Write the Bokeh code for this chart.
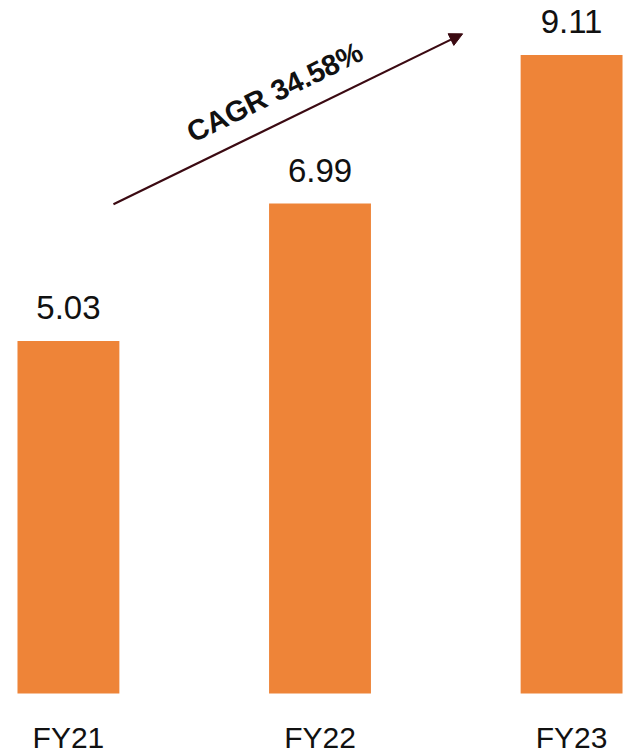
from bokeh.plotting import figure
from bokeh.models import Range1d, ColumnDataSource, Arrow, NormalHead, Label
from bokeh.core.properties import value
from bokeh.embed import file_html
from bokeh.resources import INLINE

categories = ["FY21", "FY22", "FY23"]
values = [5.03, 6.99, 9.11]
value_labels = ["5.03", "6.99", "9.11"]
cagr_text = "CAGR 34.58%"

xs = list(range(len(categories)))
src = ColumnDataSource(dict(x=xs, top=values, lab=value_labels, cat=categories,
                            cy=[-0.63] * len(categories)))

p = figure(width=638, height=755, output_backend="svg", toolbar_location=None,
           x_range=Range1d(-0.270, 2.266), y_range=Range1d(-0.884, 9.886),
           min_border=0, min_border_left=0, min_border_right=0,
           min_border_top=0, min_border_bottom=0)
p.axis.visible = False
p.grid.visible = False
p.outline_line_color = None
p.background_fill_color = "white"

p.vbar(x="x", top="top", bottom=0, width=0.405, source=src,
       fill_color="#EE8438", line_color=None)

p.text(x="x", y="top", text="lab", source=src, text_align="center",
       text_baseline="middle", y_offset=-33,
       text_font=value("Liberation Sans"), text_font_size="33px",
       text_color="#111111")

p.text(x="x", y="cy", text="cat", source=src, text_align="center",
       text_baseline="middle",
       text_font=value("Liberation Sans"), text_font_size="30px",
       text_color="#111111")

arrow_col = "#3B0A12"
p.add_layout(Arrow(end=NormalHead(size=13, fill_color=arrow_col, line_color=arrow_col),
                   x_start=0.179, y_start=6.98, x_end=1.567, y_end=9.41,
                   line_color=arrow_col, line_width=2.2))

p.add_layout(Label(x=0.82, y=8.58, text=cagr_text, angle=26, angle_units="deg",
                   text_align="center", text_baseline="middle",
                   text_font="Liberation Sans", text_font_style="bold",
                   text_font_size="29px", text_color="#111111"))

open("out.html", "w").write(file_html(p, INLINE))
